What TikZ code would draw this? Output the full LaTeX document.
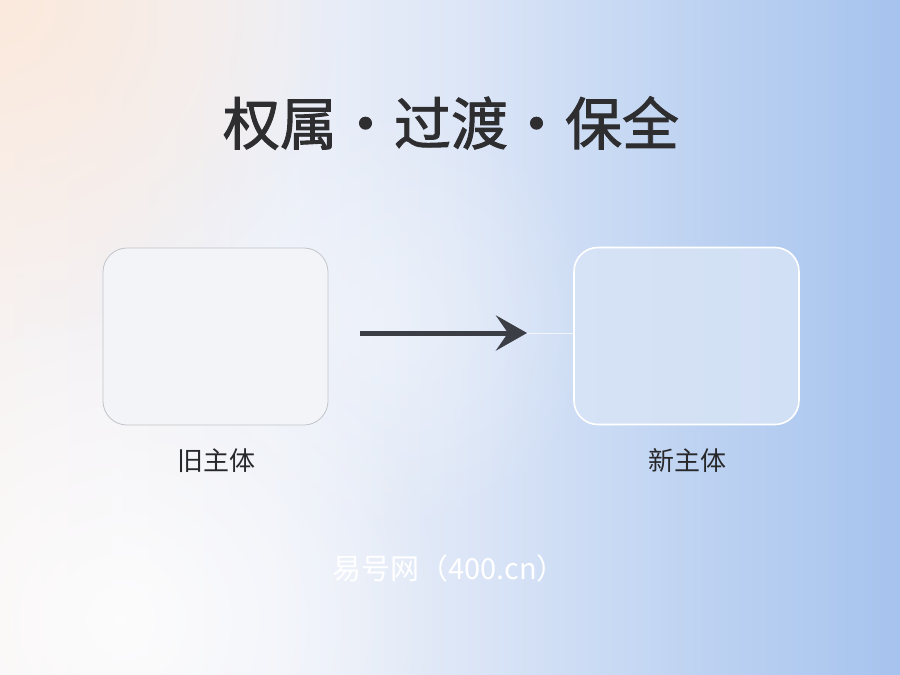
\documentclass[tikz,border=0pt]{standalone}
\usepackage{fontspec}
\newfontfamily\cjk{Noto Sans CJK SC}
\newfontfamily\cjkhead[FakeBold=1.6]{Noto Sans CJK SC}
\usetikzlibrary{arrows.meta,fadings}

\definecolor{bgleft}{RGB}{247,242,242}
\definecolor{bgpale}{RGB}{237,240,248}
\definecolor{bgmid}{RGB}{222,231,247}
\definecolor{bgmidb}{RGB}{198,216,243}
\definecolor{bgblue}{RGB}{166,195,238}
\definecolor{bgpeach}{RGB}{251,233,220}
\definecolor{titlegray}{RGB}{46,46,48}
\definecolor{labelgray}{RGB}{40,40,42}
\definecolor{arrowgray}{RGB}{60,62,70}
\definecolor{oldfill}{RGB}{243,244,247}
\definecolor{oldline}{RGB}{194,196,202}
\definecolor{newfill}{RGB}{216,228,246}

\pgfdeclarehorizontalshading{bgshade}{100bp}{color(0bp)=(bgleft); color(25bp)=(bgleft);
  color(40bp)=(bgpale); color(50bp)=(bgmid); color(60bp)=(bgmidb); color(75bp)=(bgblue); color(100bp)=(bgblue)}
\tikzfading[name=glow, inner color=transparent!0, outer color=transparent!100]

\begin{document}
\begin{tikzpicture}[x=1pt,y=-1pt]
  \tikzstyle{box}=[rectangle,rounded corners=24pt,minimum width=225pt,minimum height=177pt]
  \tikzstyle{oldbox}=[box,draw=oldline,line width=0.8pt,fill=oldfill]
  \tikzstyle{newbox}=[box,draw=white,line width=1.6pt,fill=newfill,fill opacity=0.85]
  \tikzstyle{caption}=[font=\cjk\fontsize{26}{30}\selectfont,text=labelgray]
  \tikzstyle{wmtext}=[font=\cjk\fontsize{29}{33}\selectfont]
  \useasboundingbox (0,0) rectangle (900,675);
  % background
  \shade[shading=bgshade] (0,0) rectangle (900,675);
  \fill[bgpeach,path fading=glow] (0,0) circle (340);
  \fill[white,path fading=glow,opacity=0.8] (120,620) circle (330);
  \fill[white,path fading=glow,opacity=0.35] (380,320) circle (220);
  \node [font=\cjkhead\fontsize{57}{62}\selectfont,text=titlegray] (title) at (451,123)
    {权属\makebox[1em]{·}过渡\makebox[1em]{·}保全};
  \node [oldbox] (old) at (215.5,336.5) {};
  \node [newbox] (new) at (686.5,336) {};
  \coordinate (tip) at (527,333);
  \draw [arrowgray,line width=5pt,-{Stealth[length=31pt,width=35pt,inset=12pt]}] (360,333) -- (tip);
  \draw [white,opacity=0.7,line width=0.8pt] (tip) -- (new.west |- tip);
  \node [caption] (oldlbl) at (216,461) {旧主体};
  \node [caption] (newlbl) at (687,461) {新主体};
  \node [wmtext,text=white] (wm) at (449,568) {易号网（400.cn）};
\end{tikzpicture}
\end{document}
